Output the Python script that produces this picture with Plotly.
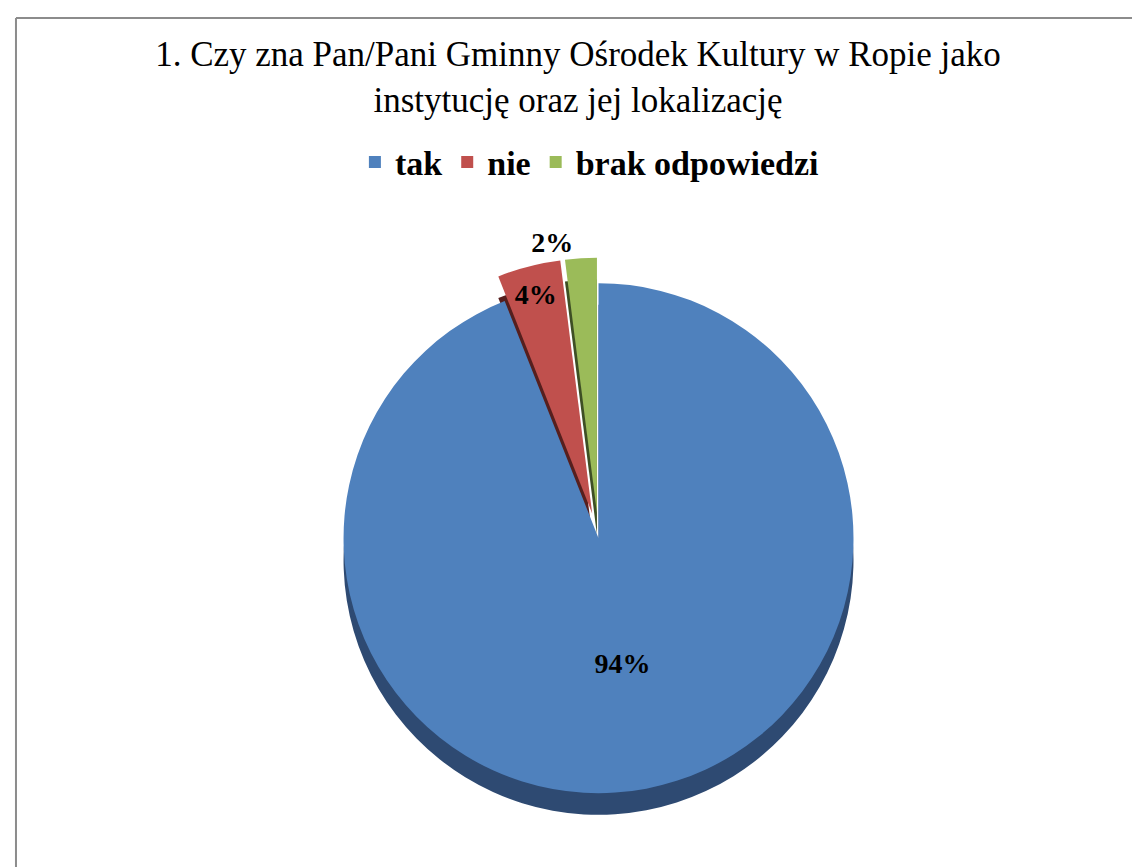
import plotly.graph_objects as go

categories = ["tak", "nie", "brak odpowiedzi"]
values = [94, 4, 2]
colors = ["#4F81BD", "#C0504D", "#9BBB59"]
side_colors = ["#2E4A72", "#561F1E", "#3E4F24"]
pulls = [0, 0.1, 0.1]

title_text = "1. Czy zna Pan/Pani Gminny Ośrodek Kultury w Ropie jako<br>instytucję oraz jej lokalizację"
serif = "Liberation Serif, Times New Roman, serif"

fig = go.Figure()

# darker copy underneath to suggest the depth of the 3D pie
fig.add_trace(go.Pie(
    labels=categories, values=values, sort=False, direction="clockwise",
    rotation=0, pull=pulls,
    marker=dict(colors=side_colors, line=dict(width=0)),
    textinfo="none", hoverinfo="skip", showlegend=False,
    domain=dict(x=[0.036, 1], y=[0.040, 0.687]),
))

fig.add_trace(go.Pie(
    labels=categories, values=values, sort=False, direction="clockwise",
    rotation=0, pull=pulls,
    marker=dict(colors=colors, line=dict(width=0)),
    textinfo="percent", texttemplate="%{percent:.0%}",
    textposition=["inside", "inside", "outside"],
    insidetextorientation="horizontal",
    textfont=dict(family=serif, size=28, color="black", weight="bold"),
    outsidetextfont=dict(family=serif, size=28, color="black", weight="bold"),
    insidetextfont=dict(family=serif, size=28, color="black", weight="bold"),
    domain=dict(x=[0.036, 1], y=[0.065, 0.712]),
))

fig.update_layout(
    width=1140, height=867,
    margin=dict(l=0, r=0, t=0, b=0, autoexpand=False),
    paper_bgcolor="white", plot_bgcolor="white",
    title=dict(text=title_text, x=0.5, xanchor="center", y=0.933, yanchor="top",
               font=dict(family=serif, size=35, color="black")),
    legend=dict(orientation="h", x=0.51, xanchor="center", y=0.822, yanchor="middle",
                font=dict(family=serif, size=34, color="black", weight="bold"),
                traceorder="normal"),
    shapes=[
        dict(type="line", xref="paper", yref="paper", x0=0.007, x1=1.0, y0=0.9885, y1=0.9885,
             line=dict(color="#8C8C8C", width=2)),
        dict(type="line", xref="paper", yref="paper", x0=0.007, x1=0.007, y0=0.0, y1=0.9885,
             line=dict(color="#8C8C8C", width=2)),
    ],
)

fig.write_html("out.html")
